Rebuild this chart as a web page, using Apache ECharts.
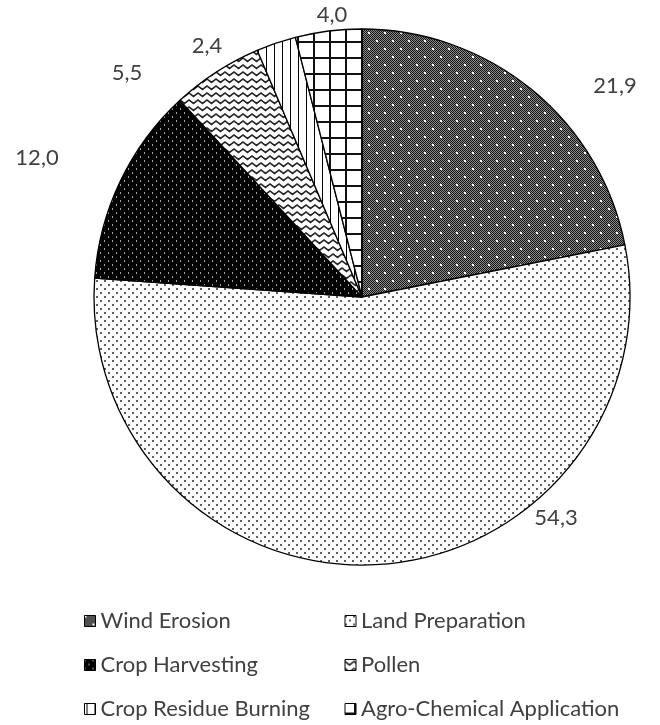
<!DOCTYPE html>
<html>
<head>
<meta charset="utf-8">
<script src="https://cdn.jsdelivr.net/npm/echarts@6/dist/echarts.min.js"></script>
<style>
  html, body { margin: 0; padding: 0; background: #fff; }
  #chart { width: 660px; height: 725px; }
</style>
</head>
<body>
<div id="chart"></div>
<script>
// Sources of agricultural particulate emissions, share in percent
const categories = [
  'Wind Erosion',
  'Land Preparation',
  'Crop Harvesting',
  'Pollen',
  'Crop Residue Burning',
  'Agro-Chemical Application'
];
const shares = [21.9, 54.3, 12.0, 5.5, 2.4, 4.0];

// Where each value label sits (pixel centre), in category order
const labelSpots = [
  [615, 86],
  [556, 518],
  [37, 158],
  [127, 73],
  [207, 46],
  [332, 15]
];

// ---- monochrome fill patterns -------------------------------------------
function tile(w, h, draw) {
  const c = document.createElement('canvas');
  c.width = w; c.height = h;
  const g = c.getContext('2d');
  draw(g, w, h);
  return { image: c, repeat: 'repeat' };
}

const fills = [
  // dark checker with white specks
  tile(16, 16, function (g) {
    for (let y = 0; y < 16; y++) {
      for (let x = 0; x < 16; x++) {
        g.fillStyle = (x + y) % 2 ? '#8a8a8a' : '#161616';
        g.fillRect(x, y, 1, 1);
      }
    }
    g.fillStyle = '#ffffff';
    g.fillRect(0, 0, 2, 2);
    g.fillRect(8, 8, 2, 2);
  }),
  // sparse grey dots on white
  tile(8, 8, function (g) {
    g.fillStyle = '#ffffff';
    g.fillRect(0, 0, 8, 8);
    g.fillStyle = '#5e5e5e';
    g.fillRect(0, 0, 2, 2);
    g.fillRect(4, 4, 2, 2);
  }),
  // black with small light specks
  tile(8, 8, function (g) {
    g.fillStyle = '#000000';
    g.fillRect(0, 0, 8, 8);
    g.fillStyle = '#a8a8a8';
    g.fillRect(0, 0, 1, 2);
    g.fillRect(4, 4, 1, 2);
  }),
  // zigzag waves
  tile(9, 7, function (g) {
    g.fillStyle = '#ffffff';
    g.fillRect(0, 0, 9, 7);
    g.strokeStyle = '#262626';
    g.lineWidth = 1.6;
    g.beginPath();
    g.moveTo(-4.5, 5.5);
    g.lineTo(0, 2);
    g.lineTo(4.5, 5.5);
    g.lineTo(9, 2);
    g.lineTo(13.5, 5.5);
    g.stroke();
  }),
  // vertical lines
  tile(8, 8, function (g) {
    g.fillStyle = '#ffffff';
    g.fillRect(0, 0, 8, 8);
    g.fillStyle = '#000000';
    g.fillRect(2, 0, 1, 8);
  }),
  // square grid
  tile(16, 16, function (g) {
    g.fillStyle = '#ffffff';
    g.fillRect(0, 0, 16, 16);
    g.fillStyle = '#111111';
    g.fillRect(9, 0, 2, 16);
    g.fillRect(0, 9, 16, 2);
  })
];

const FONT = 'Lato, "Open Sans", sans-serif';
const TEXT_COLOR = '#404040';

const chart = echarts.init(document.getElementById('chart'), null, { renderer: 'canvas' });

chart.setOption({
  backgroundColor: '#ffffff',
  animation: false,
  legend: {
    left: 79,
    top: 599,
    width: 560,
    orient: 'horizontal',
    itemWidth: 11,
    itemHeight: 11,
    itemGap: 10,
    icon: 'rect',
    selectedMode: false,
    itemStyle: { borderColor: '#000', borderWidth: 1 },
    textStyle: {
      fontFamily: FONT,
      fontSize: 22,
      color: TEXT_COLOR,
      width: 234,
      lineHeight: 34,
      overflow: 'none'
    },
    data: categories
  },
  series: [{
    type: 'pie',
    center: [362, 297],
    radius: 268,
    startAngle: 90,
    clockwise: true,
    avoidLabelOverlap: false,
    emphasis: { disabled: true },
    itemStyle: { borderColor: '#000', borderWidth: 1.3 },
    label: {
      show: true,
      position: 'outside',
      fontFamily: FONT,
      fontSize: 22,
      color: TEXT_COLOR,
      formatter: function (p) {
        return p.value.toFixed(1).replace('.', ',');
      }
    },
    labelLine: { show: false },
    labelLayout: function (p) {
      const s = labelSpots[p.dataIndex];
      return { x: s[0], y: s[1], align: 'center', verticalAlign: 'middle' };
    },
    data: categories.map(function (name, i) {
      return { name: name, value: shares[i], itemStyle: { color: fills[i] } };
    })
  }]
});
</script>
</body>
</html>
